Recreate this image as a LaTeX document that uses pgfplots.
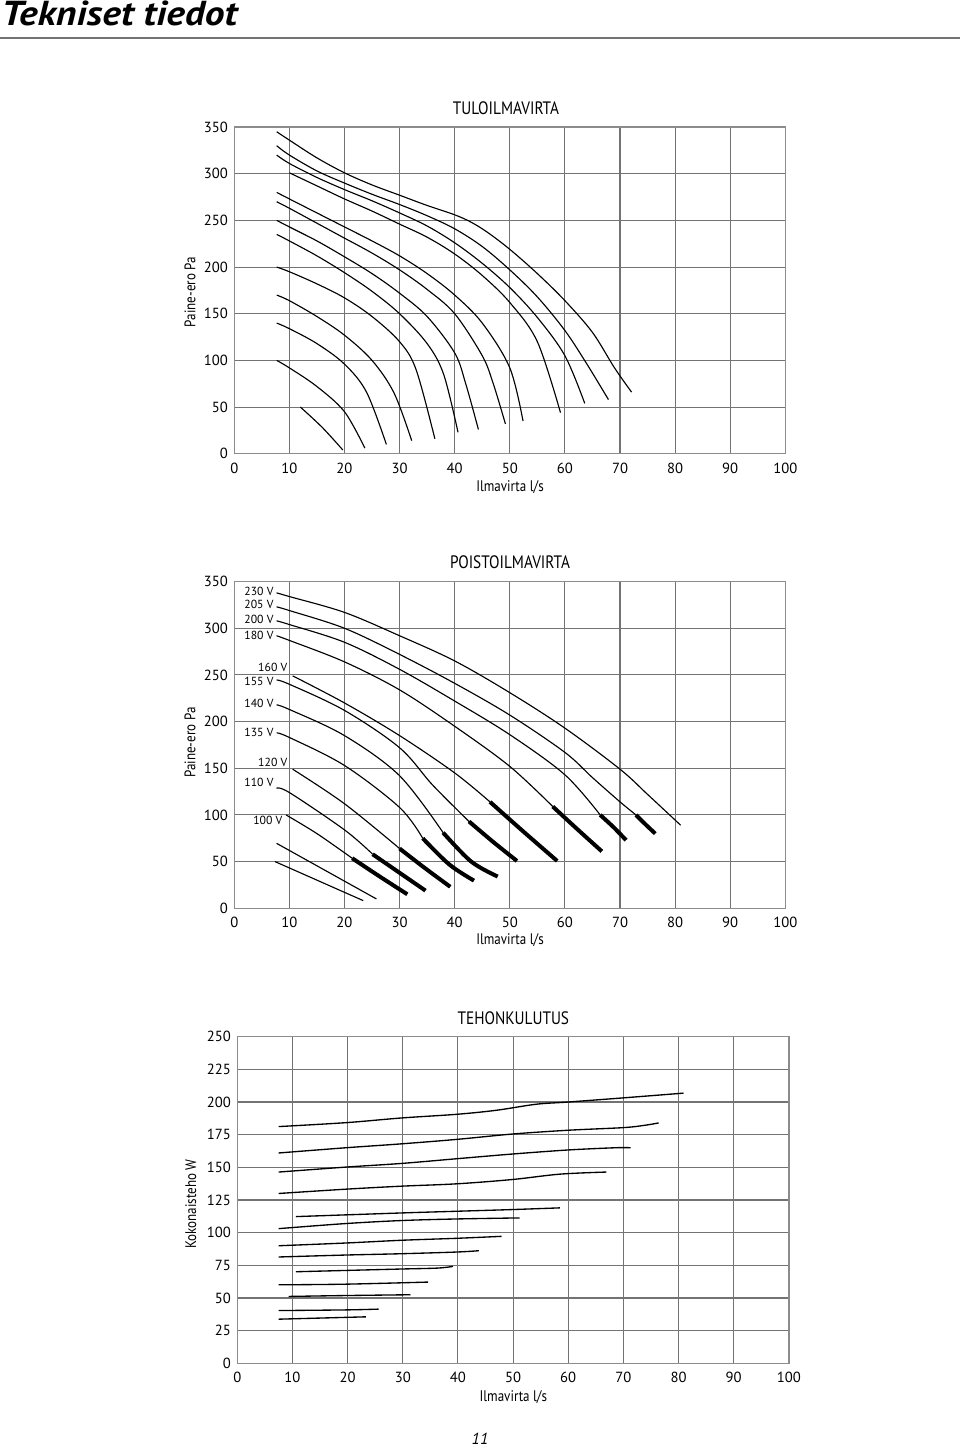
\documentclass[border=0pt]{standalone}
\usepackage{pgfplots}
\pgfplotsset{compat=1.18}
\usepackage{fontspec}
\setmainfont{PT Sans}
\newfontfamily\condfont{PT Sans}[FakeStretch=0.85]
\newfontfamily\titlefont{PT Sans Bold Italic}[FakeStretch=1.14]
\pgfplotsset{
  base/.style={
    scale only axis, anchor=south west,
    width=413.3pt, height=245pt,
    xmin=0, xmax=100, xtick={0,10,...,100},
    grid=major,
    grid style={draw=black!55, line width=0.8pt},
    axis line style={draw=black!45, line width=1.1pt},
    major tick length=0pt, tick style={draw=none},
    tick label style={font=\fontsize{11}{12}\selectfont, text=black},
    /pgf/number format/assume math mode=true,
    yticklabel style={xshift=-1.3pt},
    xticklabel style={yshift=-3.2pt},
  },
  cv/.style={black, solid, mark=none, smooth, tension=0.55, line width=0.85pt},
  cw/.style={black, solid, mark=none, smooth, tension=0.55, line width=1pt},
  thick seg/.style={black, solid, mark=none, smooth, tension=0.55, line width=3pt}
}
\begin{document}
\begin{tikzpicture}
\path[use as bounding box] (0,0) rectangle (720pt,-1088.25pt);
% page title
\node[anchor=base west, inner sep=0pt, font=\titlefont\fontsize{26}{28}\selectfont] at (1pt,-19.5pt) {Tekniset tiedot};
\draw[black!55, line width=1.8pt] (0pt,-28.5pt) -- (720pt,-28.5pt);
\node[font=\fontsize{12}{14}\selectfont\itshape] at (360pt,-1079pt) {11};

% ---------------- Chart 1: TULOILMAVIRTA ----------------
\begin{axis}[base, at={(175.7pt,-340.3pt)}, ymin=0, ymax=350, ytick={0,50,...,350}]
\addplot[cv] coordinates {(7.7,345) (10,336) (15,317) (20,301) (25,288) (30,277) (35,266) (40,256) (43,248) (46,237) (50,219) (55,193) (60,164) (65,130) (69,92) (72.1,66)};
\addplot[cv] coordinates {(7.7,330) (10,320) (15,303) (20,290) (25,278) (30,267) (35,255) (40,241) (45,222) (50,197) (55,168) (60,132) (64,96) (67.9,58)};
\addplot[cv] coordinates {(7.7,320) (10,311) (15,296) (20,283) (25,271) (30,258) (35,244) (40,226) (45,204) (50,178) (55,146) (60,105) (63.6,54)};
\addplot[cv] coordinates {(10,301) (15,287) (20,273) (25,260) (30,246) (35,232) (40,214) (45,191) (50,162) (55,120) (59.2,44)};
\addplot[cv] coordinates {(7.7,280) (10,273) (15,258) (20,243) (25,228) (30,212) (35,193) (40,170) (45,140) (50,92) (52.4,35)};
\addplot[cv] coordinates {(7.7,270) (10,263) (15,247) (20,231) (25,215) (30,197) (35,176) (40,150) (45,105) (47,75) (49.2,32)};
\addplot[cv] coordinates {(7.7,250) (10,243) (15,228) (20,211) (25,193) (30,172) (35,147) (40,108) (42,75) (44.3,26)};
\addplot[cv] coordinates {(7.7,235) (10,228) (15,212) (20,194) (25,174) (30,150) (35,118) (38,85) (40.6,23)};
\addplot[cv] coordinates {(7.7,200) (10,195) (15,182) (20,167) (25,147) (30,120) (33,90) (36.4,16)};
\addplot[cv] coordinates {(7.7,170) (10,164) (15,147) (20,127) (25,100) (29,65) (32.2,14)};
\addplot[cv] coordinates {(7.7,140) (10,134) (15,118) (20,96) (24,66) (27.6,10)};
\addplot[cv] coordinates {(7.7,100) (10,92) (15,72) (20,45) (23.7,6)};
\addplot[cv] coordinates {(12,50) (16,28) (19.7,4)};
\end{axis}
\node[font=\condfont\fontsize{13.5}{15}\selectfont] at (379.5pt,-81pt) {TULOILMAVIRTA};
\node[font=\condfont\fontsize{11.5}{13}\selectfont] at (382.5pt,-365.3pt) {Ilmavirta l/s};
\node[rotate=90, font=\condfont\fontsize{11.5}{13}\selectfont] at (142.5pt,-219pt) {Paine-ero Pa};

% ---------------- Chart 2: POISTOILMAVIRTA ----------------
\begin{axis}[base, at={(175.7pt,-681.2pt)}, ymin=0, ymax=350, ytick={0,50,...,350}]
% thin curves
\addplot[cv] coordinates {(7.67,338) (10,334) (20,317) (30,292) (40,265) (50,231) (60,193) (70,149) (75,122) (81,89)};
\addplot[cv] coordinates {(7.67,323) (10,319) (20,300) (30,272) (40,241) (50,207) (60,167) (65,140) (70,114) (72.9,100)};
\addplot[cv] coordinates {(7.67,308) (10,304) (20,285) (30,256) (40,222) (50,186) (60,143) (66.4,100)};
\addplot[cv] coordinates {(7.67,292) (10,287) (20,264) (30,234) (40,195) (50,152) (57.8,109)};
\addplot[cv] coordinates {(10.6,249) (20,220) (30,185) (40,145) (46.4,114)};
\addplot[cv] coordinates {(7.67,244.6) (10,240) (20,212) (30,172) (36,132) (42.6,93)};
\addplot[cv] coordinates {(7.67,218) (10,213) (20,185) (30,142) (37.9,81)};
\addplot[cv] coordinates {(7.67,188) (10,183) (20,153) (30,108) (34.2,75)};
\addplot[cv] coordinates {(10.6,149) (20,112) (30,64)};
\addplot[cv] coordinates {(7.67,128.6) (10,124) (20,84) (25.1,58)};
\addplot[cv] coordinates {(9.4,100) (15,80) (21.4,53.6)};
\addplot[cv] coordinates {(7.67,69.6) (25.8,10)};
\addplot[cv] coordinates {(7.4,50) (23.4,8.2)};
% thick ends
\addplot[thick seg] coordinates {(72.9,100) (74.6,90) (76.4,80)};
\addplot[thick seg] coordinates {(66.4,100) (68.8,87) (71.1,73)};
\addplot[thick seg] coordinates {(57.8,109) (62.2,85) (66.7,61)};
\addplot[thick seg] coordinates {(46.4,114) (52.5,82) (58.6,50.7)};
\addplot[thick seg] coordinates {(42.6,93) (47,71) (51.3,50.7)};
\addplot[thick seg] coordinates {(37.9,81) (43,50) (47.8,34)};
\addplot[thick seg] coordinates {(34.2,75) (39,47) (43.5,29.6)};
\addplot[thick seg] coordinates {(30,64) (34.6,43) (39.2,23)};
\addplot[thick seg] coordinates {(25.1,57.9) (30,38) (34.7,18.9)};
\addplot[thick seg] coordinates {(21.4,53.6) (26.4,34) (31.4,15)};
% labels
\begin{scope}[every node/.style={font=\fontsize{8.8}{10}\selectfont, inner sep=0.6pt}]
\node[anchor=east] at (axis cs:7.3,339.3) {230 V};
\node[anchor=east] at (axis cs:7.3,325.1) {205 V};
\node[anchor=east] at (axis cs:7.3,309) {200 V};
\node[anchor=east] at (axis cs:7.3,292.9) {180 V};
\node[anchor=east] at (axis cs:9.8,257.9) {160 V};
\node[anchor=east] at (axis cs:7.3,243.1) {155 V};
\node[anchor=east] at (axis cs:7.3,219.9) {140 V};
\node[anchor=east] at (axis cs:7.3,188.8) {135 V};
\node[anchor=east] at (axis cs:9.8,156) {120 V};
\node[anchor=east] at (axis cs:7.3,134.6) {110 V};
\node[anchor=east] at (axis cs:8.9,93.9) {100 V};
\end{scope}
\end{axis}
\node[font=\condfont\fontsize{13.5}{15}\selectfont] at (382.5pt,-421.5pt) {POISTOILMAVIRTA};
\node[font=\condfont\fontsize{11.5}{13}\selectfont] at (382.5pt,-705pt) {Ilmavirta l/s};
\node[rotate=90, font=\condfont\fontsize{11.5}{13}\selectfont] at (142.5pt,-556.9pt) {Paine-ero Pa};

% ---------------- Chart 3: TEHONKULUTUS ----------------
\begin{axis}[base, at={(178pt,-1022.5pt)}, width=413.6pt, ymin=0, ymax=250, ytick={0,25,...,250}]
\addplot[cw] coordinates {(7.5,181.2) (19.7,184.2) (29.8,187.8) (39.8,190.6) (47,193.7) (54.2,198.3) (60,200) (70.7,203.4) (80.9,206.8)};
\addplot[cw] coordinates {(7.5,161) (19.7,165) (29.8,168) (39.8,171.4) (49.9,175.5) (60,178.4) (70,180.4) (73.9,182.2) (76.4,184)};
\addplot[cw] coordinates {(7.5,146.4) (19.7,150.2) (29.8,153) (39.8,156.6) (49.9,160.2) (60,163.3) (68.6,165) (71.3,165)};
\addplot[cw] coordinates {(7.5,130) (19.7,133.3) (29.8,135.6) (39.8,137.4) (49.9,140.7) (58.5,144.8) (66.9,146.4)};
\addplot[cw] coordinates {(10.6,112.3) (29.8,115.1) (39.8,116.4) (49.9,117.7) (58.5,119)};
\addplot[cw] coordinates {(7.5,103.1) (19.7,107) (29.8,109.3) (39.8,110.5) (51.2,111.3)};
\addplot[cw] coordinates {(7.5,90) (19.7,92.1) (29.8,94.2) (39.8,95.7) (47.9,97.2)};
\addplot[cw] coordinates {(7.5,81.4) (19.7,82.9) (29.8,83.9) (39.8,85.2) (43.8,86.2)};
\addplot[cw] coordinates {(10.6,70.1) (19.7,71.1) (29.8,72.2) (36.3,72.9) (39.1,74.2)};
\addplot[cw] coordinates {(7.5,60.1) (19.7,60.6) (34.6,62.2)};
\addplot[cw] coordinates {(9.3,51.2) (19.7,51.9) (31.4,52.5)};
\addplot[cw] coordinates {(7.5,40.4) (19.7,40.9) (25.6,41.5)};
\addplot[cw] coordinates {(7.5,33.8) (23.3,35.6)};
\end{axis}
\node[font=\condfont\fontsize{13.5}{15}\selectfont] at (385pt,-763.5pt) {TEHONKULUTUS};
\node[font=\condfont\fontsize{11.5}{13}\selectfont] at (385pt,-1048pt) {Ilmavirta l/s};
\node[rotate=90, font=\condfont\fontsize{11.5}{13}\selectfont] at (143pt,-903pt) {Kokonaisteho W};
\end{tikzpicture}
\end{document}
